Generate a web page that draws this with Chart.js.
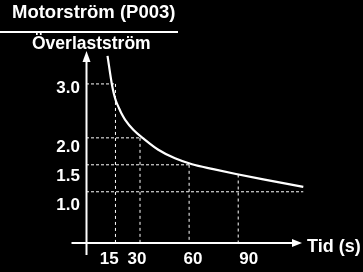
<!DOCTYPE html>
<html>
<head>
<meta charset="utf-8">
<script src="https://cdn.jsdelivr.net/npm/chart.js@4.4.1/dist/chart.umd.min.js"></script>
<style>
  html, body { margin: 0; padding: 0; background: #000; }
  #wrap { width: 363px; height: 272px; position: relative; }
</style>
</head>
<body>
<div id="wrap"><canvas id="c"></canvas></div>
<script>
// ---- data ----
const timeValues    = [10.14, 12.89, 14.11, 15.33, 16.74, 18.69, 20.83, 25.90, 32.01, 41.18, 51.38, 61.78, 74.78, 88.66, 105.33, 129.76];
const currentValues = [3.52, 2.98, 2.81, 2.68, 2.58, 2.45, 2.34, 2.15, 1.99, 1.78, 1.62, 1.51, 1.42, 1.33, 1.23, 1.09];
const xTickLabels   = [15, 30, 60, 90];
const yTickLabels   = [3.0, 2.0, 1.5, 1.0];
// dotted guides: horizontal level -> time where it stops; vertical time -> level where it starts
const hGuideLevels  = [3.0, 2.0, 1.5, 1.0];
const hGuideEnds    = [15, 30, 60, 129.76];
const vGuideTimes   = [15, 30, 60, 90];
const vGuideTops    = [3.0, 2.0, 1.5, 1.32];
const titleText     = 'Motorström (P003)';
const yAxisTitle    = 'Överlastström';
const xAxisTitle    = 'Tid (s)';

const X_MIN = -3, X_MAX = 130.2;
const Y_MIN = 0.05, Y_MAX = 4.0;

const FONT = '"Liberation Sans", Arial, sans-serif';

const datasets = [];
hGuideLevels.forEach((lv, i) => {
  datasets.push({
    data: [{x: X_MIN, y: lv}, {x: hGuideEnds[i], y: lv}],
    borderColor: '#ffffff', borderWidth: 1, borderDash: [3, 2],
    pointRadius: 0, tension: 0, clip: false
  });
});
vGuideTimes.forEach((t, i) => {
  datasets.push({
    data: [{x: t, y: vGuideTops[i]}, {x: t, y: Y_MIN}],
    borderColor: '#ffffff', borderWidth: 1, borderDash: [3, 3],
    pointRadius: 0, tension: 0, clip: false
  });
});
datasets.push({
  data: timeValues.map((t, i) => ({x: t, y: currentValues[i]})),
  borderColor: '#ffffff', borderWidth: 2.2,
  pointRadius: 0, cubicInterpolationMode: 'monotone', clip: false
});

const decor = {
  id: 'decor',
  afterDatasetsDraw(chart) {
    const ctx = chart.ctx;
    const xs = chart.scales.x, ys = chart.scales.y;
    const lx = chart.scales.labelX, ly = chart.scales.labelY;
    ctx.save();
    ctx.fillStyle = '#fff';
    ctx.strokeStyle = '#fff';

    // vertical axis with arrow
    const ax = xs.getPixelForValue(X_MIN) + 0.5;
    const ay = ys.getPixelForValue(Y_MIN);
    ctx.lineWidth = 2;
    ctx.beginPath();
    ctx.moveTo(ax, 58); ctx.lineTo(ax, ay + 12);
    ctx.stroke();
    ctx.beginPath();
    ctx.moveTo(ax, 51); ctx.lineTo(ax - 4, 62); ctx.lineTo(ax + 4, 62); ctx.closePath();
    ctx.fill();

    // horizontal axis with arrow
    ctx.beginPath();
    ctx.moveTo(ax - 15, ay); ctx.lineTo(294, ay);
    ctx.stroke();
    ctx.beginPath();
    ctx.moveTo(302, ay); ctx.lineTo(292, ay - 4); ctx.lineTo(292, ay + 4); ctx.closePath();
    ctx.fill();

    // tick labels
    ctx.font = 'bold 17px ' + FONT;
    ctx.textBaseline = 'middle';
    ctx.textAlign = 'right';
    yTickLabels.forEach(v => {
      ctx.fillText(v.toFixed(1), 80, ly.getPixelForValue(v));
    });
    ctx.textAlign = 'center';
    xTickLabels.forEach(v => {
      ctx.fillText(String(v), lx.getPixelForValue(v), 259);
    });

    // titles
    ctx.textAlign = 'left';
    ctx.textBaseline = 'alphabetic';
    ctx.font = 'bold 18.5px ' + FONT;
    ctx.fillText(titleText, 12, 17.5);
    ctx.fillRect(0, 31, 178, 2);
    ctx.font = 'bold 17.5px ' + FONT;
    ctx.fillText(yAxisTitle, 32, 49);
    ctx.font = 'bold 18px ' + FONT;
    ctx.fillText(xAxisTitle, 307, 251.5);
    ctx.restore();
  }
};

new Chart(document.getElementById('c'), {
  type: 'line',
  data: { datasets },
  options: {
    responsive: true,
    maintainAspectRatio: false,
    animation: false,
    events: [],
    layout: { padding: { left: 86, right: 59, top: 30, bottom: 29 } },
    plugins: { legend: { display: false }, tooltip: { enabled: false }, title: { display: false } },
    scales: {
      x: { type: 'linear', min: X_MIN, max: X_MAX, display: false },
      y: { type: 'linear', min: Y_MIN, max: Y_MAX, display: false },
      labelX: { type: 'linear', axis: 'x', position: 'bottom', min: 2.58, max: 119.66, display: false },
      labelY: { type: 'linear', axis: 'y', position: 'left', min: 0.368, max: 3.984, display: false }
    }
  },
  plugins: [decor]
});
</script>
</body>
</html>
